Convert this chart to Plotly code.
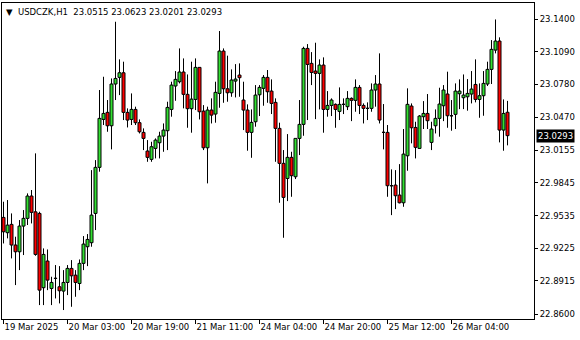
import plotly.graph_objects as go

opens = [22.9517,22.9372,22.9451,22.9255,22.9191,22.9435,22.9508,22.9720,22.9570,22.9555,
         22.8850,22.9103,22.8843,22.8938,22.8859,22.8818,22.8900,22.9033,22.8969,22.8890,
         22.9081,22.9239,22.9277,22.9555,22.9992,23.0447,23.0514,23.0387,23.0783,23.0846,
         23.0890,23.0514,23.0447,23.0542,23.0416,23.0324,23.0147,23.0068,23.0172,23.0226,
         23.0289,23.0340,23.0542,23.0764,23.0805,23.0897,23.0685,23.0549,23.0637,23.0941,
         23.0526,23.0178,23.0536,23.0498,23.0694,23.1096,23.0738,23.0700,23.0811,23.0868,
         23.0631,23.0536,23.0324,23.0425,23.0681,23.0742,23.0846,23.0716,23.0609,23.0362,
         23.0030,22.9887,23.0087,22.9903,23.0267,23.0400,23.1121,23.0979,23.0906,23.0884,
         23.0963,23.0542,23.0580,23.0590,23.0523,23.0590,23.0568,23.0647,23.0628,23.0751,
         23.0580,23.0552,23.0552,23.0726,23.0783,23.0324,23.0324,22.9818,22.9824,22.9729,
         22.9656,23.0102,23.0574,23.0371,23.0172,23.0473,23.0504,23.0229,23.0387,23.0457,
         23.0577,23.0688,23.0482,23.0495,23.0691,23.0653,23.0662,23.0688,23.0779,23.0637,
         23.0672,23.0783,23.0922,23.1105,23.1191,23.0346,23.0515]
highs = [22.9666,22.9682,22.9555,22.9334,22.9492,22.9587,22.9745,22.9777,23.0125,22.9571,
         22.9223,22.9213,22.8954,22.9065,22.9055,22.9017,22.9065,22.9112,22.9017,22.9118,
         22.9340,22.9359,22.9966,23.0061,23.0726,23.0852,23.0631,23.0836,23.1374,23.1017,
         23.0995,23.0552,23.0694,23.0568,23.0447,23.0362,23.0251,23.0235,23.0267,23.0330,
         23.0409,23.0615,23.0805,23.0906,23.1121,23.1026,23.0874,23.0995,23.1026,23.0944,
         23.0583,23.0568,23.0647,23.0805,23.1286,23.1121,23.1052,23.0922,23.0972,23.0979,
         23.0805,23.0590,23.0542,23.0773,23.0773,23.0868,23.0916,23.0827,23.0647,23.0416,
         23.0156,23.0308,23.0140,23.0267,23.0631,23.1137,23.1162,23.1086,23.1175,23.1017,
         23.1036,23.0716,23.0647,23.0599,23.0751,23.0647,23.0716,23.0656,23.0827,23.0773,
         23.0599,23.0609,23.0789,23.0868,23.1074,23.0593,23.0394,22.9973,22.9966,23.0023,
         23.0356,23.0742,23.0599,23.0425,23.0488,23.0621,23.0688,23.0425,23.0542,23.0748,
         23.0773,23.0900,23.0631,23.0789,23.0827,23.0874,23.0830,23.0906,23.1017,23.0789,
         23.0906,23.0995,23.1200,23.1396,23.1226,23.0637,23.0623]
lows = [22.9270,22.9318,22.9128,22.8875,22.9017,22.9160,22.9445,22.9460,22.9153,22.8685,
        22.8685,22.8827,22.8685,22.8748,22.8701,22.8638,22.8780,22.8669,22.8764,22.8827,
        22.9017,22.9055,22.9239,22.9397,22.9951,23.0394,23.0330,23.0163,23.0631,23.0678,
        23.0441,23.0371,23.0394,23.0394,23.0314,23.0156,23.0045,23.0045,23.0077,23.0077,
        23.0140,23.0156,23.0473,23.0624,23.0789,23.0552,23.0368,23.0321,23.0536,23.0447,
        23.0156,22.9840,23.0409,23.0416,23.0558,23.0605,23.0615,23.0662,23.0656,23.0662,
        23.0346,23.0150,23.0083,23.0378,23.0479,23.0577,23.0605,23.0498,23.0045,22.9656,
        22.9324,22.9672,22.9713,22.9881,23.0109,23.0292,23.0441,23.0773,23.0450,23.0542,
        23.0321,23.0473,23.0479,23.0368,23.0441,23.0498,23.0536,23.0431,23.0520,23.0498,
        23.0409,23.0441,23.0520,23.0568,23.0409,23.0163,22.9713,22.9539,22.9596,22.9650,
        22.9618,22.9960,23.0220,23.0077,23.0170,23.0356,23.0356,23.0156,23.0314,23.0283,
        23.0431,23.0368,23.0340,23.0356,23.0545,23.0545,23.0530,23.0599,23.0609,23.0463,
        23.0482,23.0764,23.0783,23.1074,23.0229,23.0150,23.0201]
closes = [22.9381,22.9444,22.9255,22.9191,22.9435,22.9508,22.9720,22.9565,22.9166,22.8827,
          22.9166,22.8922,22.8900,22.8940,22.8821,22.8900,22.9033,22.8963,22.8900,22.9081,
          22.9264,22.9308,22.9539,22.9992,23.0457,23.0504,23.0387,23.0783,23.0836,23.0890,
          23.0514,23.0441,23.0542,23.0416,23.0330,23.0267,23.0087,23.0188,23.0251,23.0289,
          23.0346,23.0561,23.0773,23.0827,23.0897,23.0685,23.0549,23.0640,23.0941,23.0520,
          23.0178,23.0536,23.0488,23.0704,23.1096,23.0738,23.0700,23.0821,23.0830,23.0843,
          23.0536,23.0324,23.0419,23.0678,23.0751,23.0846,23.0710,23.0599,23.0362,23.0030,
          22.9707,23.0087,22.9913,23.0267,23.0400,23.1121,23.0969,23.0893,23.0884,23.0963,
          23.0542,23.0580,23.0631,23.0542,23.0590,23.0590,23.0647,23.0628,23.0751,23.0580,
          23.0552,23.0552,23.0726,23.0783,23.0441,23.0324,22.9818,22.9818,22.9723,22.9656,
          23.0118,23.0590,23.0368,23.0182,23.0479,23.0504,23.0435,23.0356,23.0457,23.0593,
          23.0726,23.0482,23.0482,23.0716,23.0716,23.0678,23.0694,23.0735,23.0637,23.0672,
          23.0789,23.0922,23.1112,23.1191,23.0346,23.0504,23.0293]

x_tick_pos = [0, 16, 32, 48, 64, 80, 96, 112]
x_tick_labels = ["19 Mar 2025", "20 Mar 03:00", "20 Mar 19:00", "21 Mar 11:00",
                 "24 Mar 04:00", "24 Mar 20:00", "25 Mar 12:00", "26 Mar 04:00"]
y_tick_vals = [23.1400, 23.1090, 23.0780, 23.0470, 23.0155, 22.9845, 22.9535, 22.9225, 22.8915, 22.8600]
y_tick_labels = ["23.1400", "23.1090", "23.0780", "23.0470", "23.0155", "22.9845",
                 "22.9535", "22.9225", "22.8915", "22.8600"]
symbol = "USDCZK,H1"
last_price = 23.0293

FONT = "DejaVu Sans"
BULL = "#32E032"
BEAR = "#FF0000"
n = len(opens)
xs = list(range(n))

body_top = [max(o, c) for o, c in zip(opens, closes)]
body_base = [min(o, c) for o, c in zip(opens, closes)]
body_h = [t - b for t, b in zip(body_top, body_base)]
body_col = [BULL if c > o else BEAR for o, c in zip(opens, closes)]

# wicks: upper (body top -> high) and lower (low -> body bottom), plus doji ticks
wx, wy = [], []
for i in xs:
    wx += [i, i, None, i, i, None]
    wy += [body_top[i], highs[i], None, lows[i], body_base[i], None]
    if body_h[i] < 1e-9:
        wx += [i - 0.35, i + 0.35, None]
        wy += [opens[i], opens[i], None]

fig = go.Figure()
fig.add_trace(go.Bar(x=xs, y=body_h, base=body_base, width=0.75,
                     marker=dict(color=body_col, line=dict(color="black", width=1)),
                     hoverinfo="skip"))
fig.add_trace(go.Scatter(x=wx, y=wy, mode="lines", line=dict(color="black", width=1),
                         hoverinfo="skip", connectgaps=False))

fig.update_layout(
    width=580, height=340,
    margin=dict(l=2, r=46, t=3, b=21),
    paper_bgcolor="white", plot_bgcolor="white",
    showlegend=False, barmode="overlay",
    font=dict(family=FONT, size=8.5, color="black"),
    xaxis=dict(
        type="linear", range=[-0.375, 132.625],
        showgrid=False, zeroline=False,
        showline=True, linecolor="black", linewidth=1, mirror=True,
        tickmode="array", tickvals=x_tick_pos, ticktext=x_tick_labels,
        ticks="outside", ticklen=4, tickcolor="black", tickwidth=1,
        ticklabelposition="outside right", tickangle=0,
        tickfont=dict(family=FONT, size=8.5, color="black"),
    ),
    yaxis=dict(
        side="right", range=[22.8553, 23.1552],
        showgrid=False, zeroline=False,
        showline=True, linecolor="black", linewidth=1, mirror=True,
        tickmode="array", tickvals=y_tick_vals, ticktext=y_tick_labels,
        ticks="outside", ticklen=3, tickcolor="black", tickwidth=1,
        tickfont=dict(family=FONT, size=8.5, color="black"),
    ),
)

fig.add_annotation(
    xref="paper", yref="paper", x=0.004, y=0.995, xanchor="left", yanchor="top",
    text=f"▼  {symbol}  {opens[-1]:.4f} {highs[-1]:.4f} {lows[-1]:.4f} {closes[-1]:.4f}",
    showarrow=False, font=dict(family=FONT, size=8.5, color="black"),
)
fig.add_annotation(
    xref="paper", yref="y", x=1.0, y=last_price, xanchor="left", yanchor="middle",
    xshift=2, text=f"{last_price:.4f}", showarrow=False,
    bgcolor="black", font=dict(family=FONT, size=8.5, color="white"), borderpad=1,
)

fig.write_html("out.html")
